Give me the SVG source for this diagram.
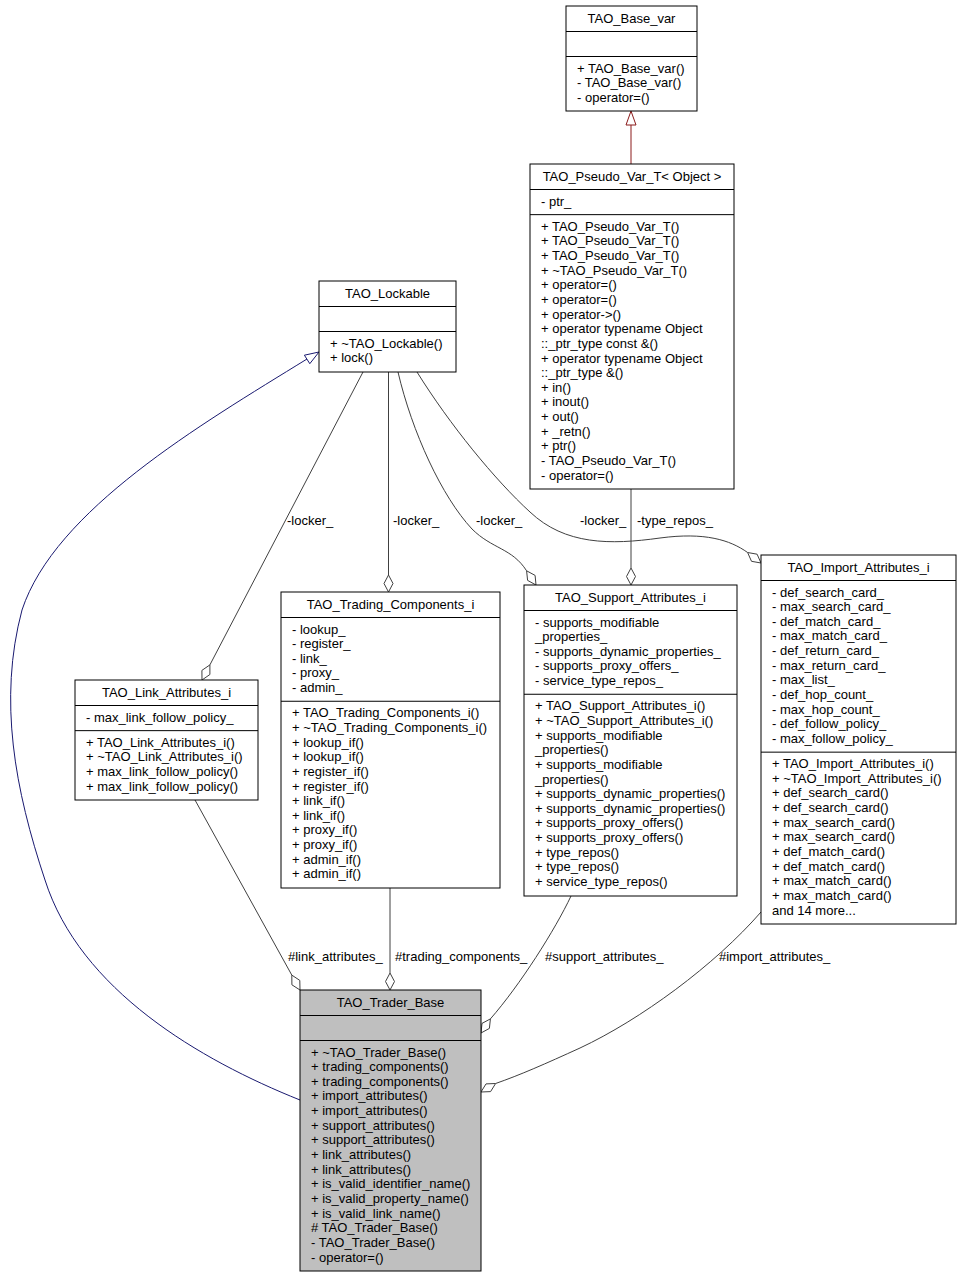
<svg xmlns="http://www.w3.org/2000/svg" width="961" height="1277" viewBox="0 0 961 1277">
<style>
text{font-family:"Liberation Sans",Arial,Helvetica,sans-serif;font-size:13px;fill:#000}
.t{text-anchor:middle}
.box{fill:#fff;stroke:#000;stroke-width:1}
.hl{fill:#bfbfbf}
.div{stroke:#000;stroke-width:1}
.use{fill:none;stroke:#404040;stroke-width:1}
.dia{fill:#fff;stroke:#404040;stroke-width:1}
.inhB{fill:none;stroke:#191970;stroke-width:1}
.inhR{fill:none;stroke:#8b1a1a;stroke-width:1}
</style>
<rect width="961" height="1277" fill="#fff"/>

<g id="edges">
  <g id="e-trader-lockable">
    <path class="inhB" d="M300,1100 C200,1060 80,990 45,880 C15,790 -2,700 22,610 C55,510 200,425 307,359"/>
    <polygon class="inhB" fill="#fff" points="319,352 304.4,355.2 309.8,363.7"/>
  </g>
  <g id="e-pseudo-basevar">
    <path class="inhR" d="M631,164 L631,125"/>
    <polygon class="inhR" fill="#fff" points="631,111 626,125 636,125"/>
  </g>
  <g id="e-lockable-link">
    <path class="use" d="M363,372 L209.9,664.9"/>
    <polygon class="dia" points="202,680 209.9,674.5 209.9,664.9 201.9,670.4"/>
    <text x="287" y="525">-locker_</text>
  </g>
  <g id="e-lockable-trading">
    <path class="use" d="M388.5,372 L388.5,575"/>
    <polygon class="dia" points="388.5,592 393,583.5 388.5,575 384,583.5"/>
    <text x="393" y="525">-locker_</text>
  </g>
  <g id="e-lockable-support">
    <path class="use" d="M398,372 C412,432 442,497 472,529 C492,549 512,548 526.6,570.8"/>
    <polygon class="dia" points="536,585 535.1,575.4 526.6,570.8 527.6,580.4"/>
    <text x="476" y="525">-locker_</text>
  </g>
  <g id="e-lockable-import">
    <path class="use" d="M417,372 C450,425 495,480 530,512 C565,545 610,545 660,538 C705,532 730,540 747.6,552.5"/>
    <polygon class="dia" points="761,563 757.1,554.2 747.6,552.5 751.5,561.3"/>
    <text x="580" y="525">-locker_</text>
  </g>
  <g id="e-pseudo-support">
    <path class="use" d="M631,489 L631,568"/>
    <polygon class="dia" points="631,585 635.5,576.5 631,568 626.5,576.5"/>
    <text x="637" y="525">-type_repos_</text>
  </g>
  <g id="e-link-trader">
    <path class="use" d="M195,800 L291.8,975.1"/>
    <polygon class="dia" points="300,990 299.8,980.4 291.8,975.1 291.9,984.8"/>
    <text x="288" y="961">#link_attributes_</text>
  </g>
  <g id="e-trading-trader">
    <path class="use" d="M390,888 L390,973"/>
    <polygon class="dia" points="390,990 394.5,981.5 390,973 385.5,981.5"/>
    <text x="395" y="961">#trading_components_</text>
  </g>
  <g id="e-support-trader">
    <path class="use" d="M571,896 C555,930 520,985 490.4,1018.9"/>
    <polygon class="dia" points="481,1033 489.4,1028.4 490.4,1018.9 482,1023.4"/>
    <text x="545" y="961">#support_attributes_</text>
  </g>
  <g id="e-import-trader">
    <path class="use" d="M761,912 C715,965 640,1020 580,1048 C545,1064 520,1075 495.6,1083.5"/>
    <polygon class="dia" points="481,1092 490.6,1091.6 495.6,1083.5 486,1083.9"/>
    <text x="719" y="961">#import_attributes_</text>
  </g>
</g>

<g id="TAO_Base_var">
  <rect class="box" x="566" y="6" width="131" height="105"/>
  <line class="div" x1="566" y1="31.5" x2="697" y2="31.5"/>
  <line class="div" x1="566" y1="56.5" x2="697" y2="56.5"/>
  <text class="t" x="631.5" y="23">TAO_Base_var</text>
  <text x="577" y="72.5">+ TAO_Base_var()</text>
  <text x="577" y="87.15">- TAO_Base_var()</text>
  <text x="577" y="101.8">- operator=()</text>
</g>

<g id="TAO_Pseudo_Var_T">
  <rect class="box" x="530" y="164" width="204" height="325"/>
  <line class="div" x1="530" y1="189.5" x2="734" y2="189.5"/>
  <line class="div" x1="530" y1="214.65" x2="734" y2="214.65"/>
  <text class="t" x="632" y="181">TAO_Pseudo_Var_T&lt; Object &gt;</text>
  <text x="541" y="205.5">- ptr_</text>
  <text x="541" y="230.65">+ TAO_Pseudo_Var_T()</text>
  <text x="541" y="245.3">+ TAO_Pseudo_Var_T()</text>
  <text x="541" y="259.95">+ TAO_Pseudo_Var_T()</text>
  <text x="541" y="274.6">+ ~TAO_Pseudo_Var_T()</text>
  <text x="541" y="289.25">+ operator=()</text>
  <text x="541" y="303.9">+ operator=()</text>
  <text x="541" y="318.55">+ operator-&gt;()</text>
  <text x="541" y="333.2">+ operator typename Object</text>
  <text x="541" y="347.85">::_ptr_type const &amp;()</text>
  <text x="541" y="362.5">+ operator typename Object</text>
  <text x="541" y="377.15">::_ptr_type &amp;()</text>
  <text x="541" y="391.8">+ in()</text>
  <text x="541" y="406.45">+ inout()</text>
  <text x="541" y="421.1">+ out()</text>
  <text x="541" y="435.75">+ _retn()</text>
  <text x="541" y="450.4">+ ptr()</text>
  <text x="541" y="465.05">- TAO_Pseudo_Var_T()</text>
  <text x="541" y="479.7">- operator=()</text>
</g>

<g id="TAO_Lockable">
  <rect class="box" x="319" y="281" width="137" height="91"/>
  <line class="div" x1="319" y1="306.5" x2="456" y2="306.5"/>
  <line class="div" x1="319" y1="331.5" x2="456" y2="331.5"/>
  <text class="t" x="387.5" y="298">TAO_Lockable</text>
  <text x="330" y="347.5">+ ~TAO_Lockable()</text>
  <text x="330" y="362.15">+ lock()</text>
</g>

<g id="TAO_Link_Attributes_i">
  <rect class="box" x="75" y="680" width="183" height="120"/>
  <line class="div" x1="75" y1="705.5" x2="258" y2="705.5"/>
  <line class="div" x1="75" y1="730.65" x2="258" y2="730.65"/>
  <text class="t" x="166.5" y="697">TAO_Link_Attributes_i</text>
  <text x="86" y="721.5">- max_link_follow_policy_</text>
  <text x="86" y="746.65">+ TAO_Link_Attributes_i()</text>
  <text x="86" y="761.3">+ ~TAO_Link_Attributes_i()</text>
  <text x="86" y="775.95">+ max_link_follow_policy()</text>
  <text x="86" y="790.6">+ max_link_follow_policy()</text>
</g>

<g id="TAO_Trading_Components_i">
  <rect class="box" x="281" y="592" width="219" height="296"/>
  <line class="div" x1="281" y1="617.5" x2="500" y2="617.5"/>
  <line class="div" x1="281" y1="701.25" x2="500" y2="701.25"/>
  <text class="t" x="390.5" y="609">TAO_Trading_Components_i</text>
  <text x="292" y="633.5">- lookup_</text>
  <text x="292" y="648.15">- register_</text>
  <text x="292" y="662.8">- link_</text>
  <text x="292" y="677.45">- proxy_</text>
  <text x="292" y="692.1">- admin_</text>
  <text x="292" y="717.25">+ TAO_Trading_Components_i()</text>
  <text x="292" y="731.9">+ ~TAO_Trading_Components_i()</text>
  <text x="292" y="746.55">+ lookup_if()</text>
  <text x="292" y="761.2">+ lookup_if()</text>
  <text x="292" y="775.85">+ register_if()</text>
  <text x="292" y="790.5">+ register_if()</text>
  <text x="292" y="805.15">+ link_if()</text>
  <text x="292" y="819.8">+ link_if()</text>
  <text x="292" y="834.45">+ proxy_if()</text>
  <text x="292" y="849.1">+ proxy_if()</text>
  <text x="292" y="863.75">+ admin_if()</text>
  <text x="292" y="878.4">+ admin_if()</text>
</g>

<g id="TAO_Support_Attributes_i">
  <rect class="box" x="524" y="585" width="213" height="311"/>
  <line class="div" x1="524" y1="610.5" x2="737" y2="610.5"/>
  <line class="div" x1="524" y1="694.25" x2="737" y2="694.25"/>
  <text class="t" x="630.5" y="602">TAO_Support_Attributes_i</text>
  <text x="535" y="626.5">- supports_modifiable</text>
  <text x="535" y="641.15">_properties_</text>
  <text x="535" y="655.8">- supports_dynamic_properties_</text>
  <text x="535" y="670.45">- supports_proxy_offers_</text>
  <text x="535" y="685.1">- service_type_repos_</text>
  <text x="535" y="710.25">+ TAO_Support_Attributes_i()</text>
  <text x="535" y="724.9">+ ~TAO_Support_Attributes_i()</text>
  <text x="535" y="739.55">+ supports_modifiable</text>
  <text x="535" y="754.2">_properties()</text>
  <text x="535" y="768.85">+ supports_modifiable</text>
  <text x="535" y="783.5">_properties()</text>
  <text x="535" y="798.15">+ supports_dynamic_properties()</text>
  <text x="535" y="812.8">+ supports_dynamic_properties()</text>
  <text x="535" y="827.45">+ supports_proxy_offers()</text>
  <text x="535" y="842.1">+ supports_proxy_offers()</text>
  <text x="535" y="856.75">+ type_repos()</text>
  <text x="535" y="871.4">+ type_repos()</text>
  <text x="535" y="886.05">+ service_type_repos()</text>
</g>

<g id="TAO_Import_Attributes_i">
  <rect class="box" x="761" y="555" width="195" height="369"/>
  <line class="div" x1="761" y1="580.5" x2="956" y2="580.5"/>
  <line class="div" x1="761" y1="752.15" x2="956" y2="752.15"/>
  <text class="t" x="858.5" y="572">TAO_Import_Attributes_i</text>
  <text x="772" y="596.5">- def_search_card_</text>
  <text x="772" y="611.15">- max_search_card_</text>
  <text x="772" y="625.8">- def_match_card_</text>
  <text x="772" y="640.45">- max_match_card_</text>
  <text x="772" y="655.1">- def_return_card_</text>
  <text x="772" y="669.75">- max_return_card_</text>
  <text x="772" y="684.4">- max_list_</text>
  <text x="772" y="699.05">- def_hop_count_</text>
  <text x="772" y="713.7">- max_hop_count_</text>
  <text x="772" y="728.35">- def_follow_policy_</text>
  <text x="772" y="743">- max_follow_policy_</text>
  <text x="772" y="768.15">+ TAO_Import_Attributes_i()</text>
  <text x="772" y="782.8">+ ~TAO_Import_Attributes_i()</text>
  <text x="772" y="797.45">+ def_search_card()</text>
  <text x="772" y="812.1">+ def_search_card()</text>
  <text x="772" y="826.75">+ max_search_card()</text>
  <text x="772" y="841.4">+ max_search_card()</text>
  <text x="772" y="856.05">+ def_match_card()</text>
  <text x="772" y="870.7">+ def_match_card()</text>
  <text x="772" y="885.35">+ max_match_card()</text>
  <text x="772" y="900">+ max_match_card()</text>
  <text x="772" y="914.65">and 14 more...</text>
</g>

<g id="TAO_Trader_Base">
  <rect class="box hl" x="300" y="990" width="181" height="281"/>
  <line class="div" x1="300" y1="1015.5" x2="481" y2="1015.5"/>
  <line class="div" x1="300" y1="1040.5" x2="481" y2="1040.5"/>
  <text class="t" x="390.5" y="1007">TAO_Trader_Base</text>
  <text x="311" y="1056.5">+ ~TAO_Trader_Base()</text>
  <text x="311" y="1071.15">+ trading_components()</text>
  <text x="311" y="1085.8">+ trading_components()</text>
  <text x="311" y="1100.45">+ import_attributes()</text>
  <text x="311" y="1115.1">+ import_attributes()</text>
  <text x="311" y="1129.75">+ support_attributes()</text>
  <text x="311" y="1144.4">+ support_attributes()</text>
  <text x="311" y="1159.05">+ link_attributes()</text>
  <text x="311" y="1173.7">+ link_attributes()</text>
  <text x="311" y="1188.35">+ is_valid_identifier_name()</text>
  <text x="311" y="1203">+ is_valid_property_name()</text>
  <text x="311" y="1217.65">+ is_valid_link_name()</text>
  <text x="311" y="1232.3"># TAO_Trader_Base()</text>
  <text x="311" y="1246.95">- TAO_Trader_Base()</text>
  <text x="311" y="1261.6">- operator=()</text>
</g>
</svg>
